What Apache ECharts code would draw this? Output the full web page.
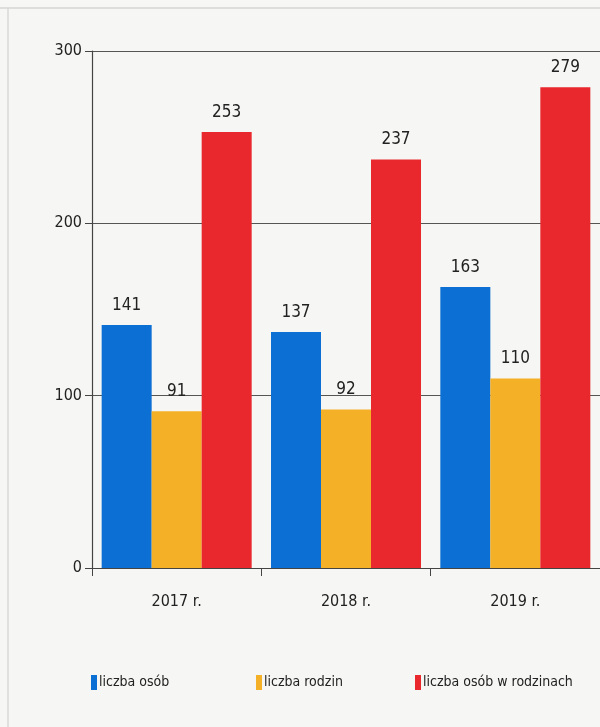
<!DOCTYPE html>
<html>
<head>
<meta charset="utf-8">
<script src="https://cdn.jsdelivr.net/npm/echarts@6/dist/echarts.min.js"></script>
<style>
  html, body { margin: 0; padding: 0; background: #f6f6f4; }
  #chart { width: 600px; height: 727px; }
</style>
</head>
<body>
<div id="chart"></div>
<script>
  // categories and values
  var years = ['2017 r.', '2018 r.', '2019 r.']
  var liczbaOsob = [141, 137, 163]
  var liczbaRodzin = [91, 92, 110]
  var liczbaOsobWRodzinach = [253, 237, 279]
  var seriesNames = ['liczba osób', 'liczba rodzin', 'liczba osób w rodzinach']
  var colors = ['#0b6fd4', '#f4b026', '#e8282d']

  var font = "'Liberation Sans Narrow', 'DejaVu Sans Condensed', 'Roboto Condensed', sans-serif"
  var chart = echarts.init(document.getElementById('chart'))

  function makeBar (name, data, color) {
    return {
      name: name,
      type: 'bar',
      data: data,
      barWidth: 50,
      barGap: '0%',
      itemStyle: { color: color },
      label: {
        show: true,
        position: 'top',
        distance: 11,
        color: '#222',
        fontFamily: font,
        fontSize: 17
      }
    }
  }

  // one legend per item so each sits where the original puts it
  var legendLefts = [86, 251, 410]
  var legends = seriesNames.map(function (name, i) {
    return {
      data: [name],
      left: legendLefts[i],
      top: 670,
      icon: 'rect',
      itemWidth: 6,
      itemHeight: 15,
      itemGap: 0,
      textStyle: { fontFamily: font, fontSize: 14, color: '#222', padding: [0, 0, 0, -3] }
    }
  })

  chart.setOption({
    backgroundColor: '#f6f6f4',
    animation: false,
    color: colors,
    legend: legends,
    grid: {
      left: 92,
      top: 51,
      width: 515,
      height: 517,
      containLabel: false
    },
    xAxis: {
      type: 'category',
      data: years,
      axisLine: { lineStyle: { color: '#444', width: 1.2 } },
      axisTick: { show: true, length: 8, lineStyle: { color: '#444' } },
      axisLabel: { color: '#222', fontFamily: font, fontSize: 16, margin: 26 }
    },
    yAxis: {
      type: 'value',
      min: 0,
      max: 300,
      interval: 100,
      axisLine: { show: true, lineStyle: { color: '#444', width: 1.2 } },
      axisTick: { show: true, length: 7, lineStyle: { color: '#444' } },
      axisLabel: { color: '#222', fontFamily: font, fontSize: 16, margin: 10 },
      splitLine: { lineStyle: { color: '#555', width: 1 } }
    },
    graphic: [
      // faint frame of the scanned page
      { type: 'line', shape: { x1: 0, y1: 8, x2: 600, y2: 8 }, style: { stroke: '#d4d4d4', lineWidth: 1.5 } },
      { type: 'line', shape: { x1: 8, y1: 8, x2: 8, y2: 727 }, style: { stroke: '#d8d8d8', lineWidth: 1.5 } }
    ],
    series: [
      makeBar(seriesNames[0], liczbaOsob, colors[0]),
      makeBar(seriesNames[1], liczbaRodzin, colors[1]),
      makeBar(seriesNames[2], liczbaOsobWRodzinach, colors[2])
    ]
  })
</script>
</body>
</html>
